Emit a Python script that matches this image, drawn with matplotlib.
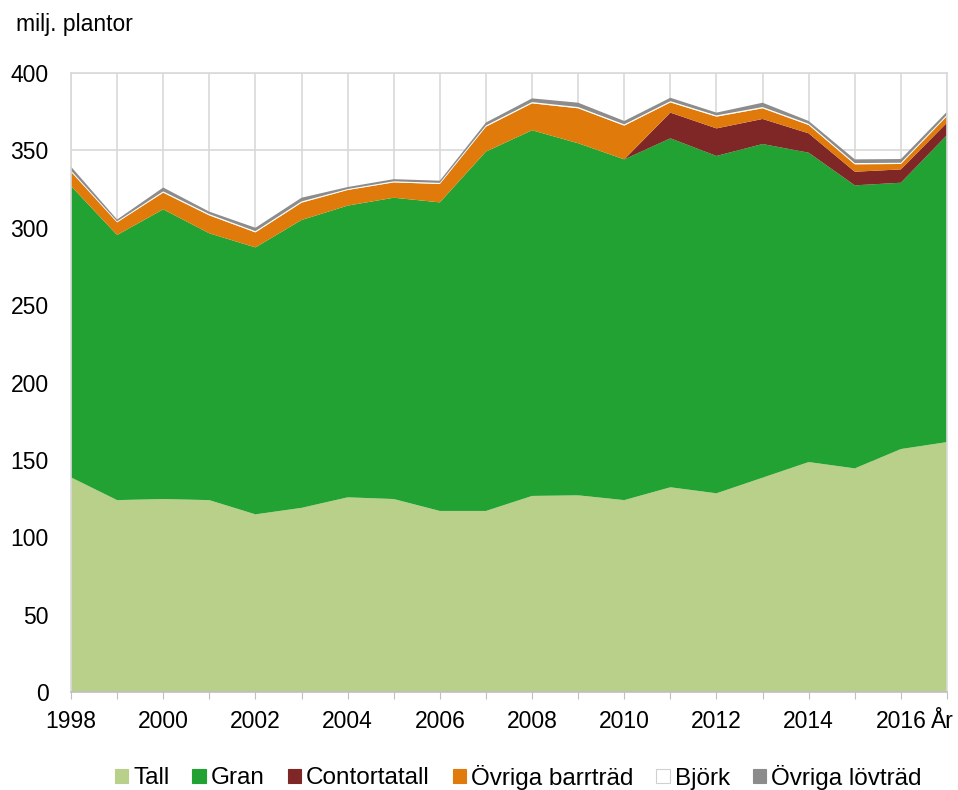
import matplotlib
matplotlib.use("Agg")
import matplotlib.pyplot as plt
from matplotlib.patches import Patch
from matplotlib.transforms import blended_transform_factory
import numpy as np

plt.rcParams['font.family'] = ['Liberation Sans', 'DejaVu Sans']

years = list(range(1998, 2018))
tall = [138.7, 124.0, 124.7, 124.0, 114.8, 119.0, 125.8, 124.7, 117.0, 117.0,
        126.7, 127.1, 124.0, 132.3, 128.4, 138.5, 148.6, 144.5, 157.0, 161.5]
gran = [188.3, 171.3, 187.2, 172.4, 172.5, 186.0, 188.5, 194.7, 199.4, 232.2,
        236.3, 227.5, 220.2, 225.5, 218.0, 215.6, 199.9, 182.9, 172.1, 198.4]
contortatall = [0, 0, 0, 0, 0, 0, 0, 0, 0, 0,
                0, 0, 0, 16.6, 17.8, 16.2, 12.5, 8.8, 8.6, 8.0]
ovriga_barr = [9.2, 8.2, 10.8, 11.6, 9.7, 11.2, 10.1, 9.9, 11.9, 16.1,
               17.4, 22.6, 21.8, 6.6, 7.6, 6.9, 5.4, 4.8, 3.5, 4.3]
bjork = [0.8, 0.6, 0.8, 0.8, 0.8, 0.8, 0.6, 0.7, 0.7, 0.8,
         0.8, 0.8, 0.8, 0.8, 0.8, 0.8, 0.8, 0.8, 0.8, 0.8]
ovriga_lov = [2.5, 1.2, 2.5, 1.6, 2.2, 2.4, 1.3, 1.4, 1.4, 1.9,
              2.4, 2.8, 2.2, 2.2, 1.8, 2.8, 1.8, 2.4, 2.4, 2.0]

series_names = ['Tall', 'Gran', 'Contortatall', 'Övriga barrträd', 'Björk', 'Övriga lövträd']
colors = ['#b9d08b', '#21a232', '#7f2627', '#e07b0b', '#ffffff', '#8c8c8c']
xlabels = [str(y) if (y - 1998) % 2 == 0 else '' for y in years]
axis_unit = 'År'

FS = 16.5

fig = plt.figure(figsize=(9.58, 7.9), dpi=100)
ax = fig.add_axes([71/958, 1-692/790, (947-71)/958, (692-73)/790])

ax.stackplot(years, tall, gran, contortatall, ovriga_barr, bjork, ovriga_lov,
             colors=colors, edgecolor='none', linewidth=0, zorder=2)

ax.set_xlim(1998, 2017)
ax.set_ylim(0, 400)
ax.set_yticks(range(0, 401, 50))
ax.set_xticks(years)
ax.set_xticklabels(xlabels)
ax.grid(True, color='#d9d9d9', linewidth=1.2, zorder=0)
ax.set_axisbelow(True)
for s in ax.spines.values():
    s.set_color('#d9d9d9')
    s.set_linewidth(1.2)
ax.spines['bottom'].set_color('#bfbfbf')
ax.tick_params(axis='y', length=0, pad=16, labelsize=FS)
ax.tick_params(axis='x', length=5, color='#bfbfbf', pad=8, labelsize=FS)

trans = blended_transform_factory(ax.transData, fig.transFigure)
ax.text(2016.9, 1-728/790, axis_unit, transform=trans, ha='center', va='baseline',
        fontsize=FS)

fig.text(16/958, 1-25/790, 'milj. plantor', fontsize=FS, va='center', ha='left')

handles = [Patch(facecolor=c, edgecolor=('#d0d0d0' if c == '#ffffff' else c), linewidth=0.8)
           for c in colors]
fig.legend(handles, series_names, loc='center', bbox_to_anchor=(0.541, 1-777/790),
           ncol=6, frameon=False, fontsize=17.5, handlelength=0.55, handleheight=0.55,
           handletextpad=0.2, columnspacing=0.95)

fig.savefig('out.png', dpi=100)
